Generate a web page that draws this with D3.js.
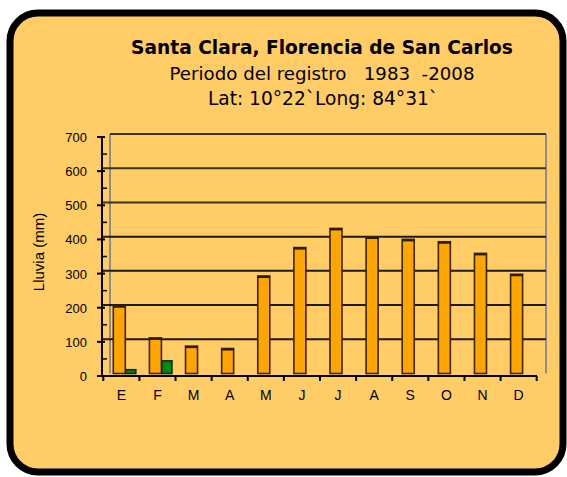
<!DOCTYPE html>
<html>
<head>
<meta charset="utf-8">
<script src="https://cdn.jsdelivr.net/npm/d3@7"></script>
<style>
  html, body { margin: 0; padding: 0; background: #ffffff; }
  svg { display: block; }
</style>
</head>
<body>
<svg id="chart" width="567" height="477"></svg>
<script>
// Monthly rainfall, Santa Clara (Florencia de San Carlos)
const months = ["E", "F", "M", "A", "M", "J", "J", "A", "S", "O", "N", "D"];
const rainMain = [198, 104, 80, 73, 285, 368, 424, 399, 392, 385, 351, 290];
const rainSecond = [11, 37, null, null, null, null, null, null, null, null, null, null];
const yTicks = [0, 100, 200, 300, 400, 500, 600, 700];

const titleLines = [
  "Santa Clara, Florencia de San Carlos",
  "Periodo del registro   1983  -2008",
  "Lat: 10°22`Long: 84°31`"
];

const svg = d3.select("#chart");

// rounded card
svg.append("rect")
  .attr("x", 10).attr("y", 13)
  .attr("width", 553).attr("height", 459)
  .attr("rx", 28).attr("ry", 28)
  .attr("fill", "#FFCC66")
  .attr("stroke", "#000")
  .attr("stroke-width", 7);

// titles
const titleFont = "DejaVu Sans, Verdana, sans-serif";
svg.append("text")
  .attr("x", 322).attr("y", 54)
  .attr("text-anchor", "middle")
  .attr("font-family", titleFont)
  .attr("font-weight", "bold")
  .attr("font-size", 18.6)
  .attr("fill", "#000")
  .text(titleLines[0]);
svg.append("text")
  .attr("x", 322).attr("y", 80)
  .attr("text-anchor", "middle")
  .attr("font-family", titleFont)
  .attr("font-size", 18.2)
  .attr("fill", "#000")
  .style("white-space", "pre")
  .text(titleLines[1]);
svg.append("text")
  .attr("x", 323).attr("y", 105)
  .attr("text-anchor", "middle")
  .attr("font-family", titleFont)
  .attr("font-size", 18.6)
  .attr("fill", "#000")
  .text(titleLines[2]);

// scales: back wall and front axis (slight 3D offset)
const x = d3.scaleBand().domain(d3.range(months.length)).range([103.3, 536.7]).padding(0);
const yWall = d3.scaleLinear().domain([0, 700]).range([373.5, 134]);
const yFront = d3.scaleLinear().domain([0, 700]).range([376, 137]);

const wallLeft = 110, wallRight = 546;

// back wall edges
svg.append("line")
  .attr("x1", wallLeft).attr("x2", wallLeft)
  .attr("y1", yWall(700)).attr("y2", yWall(0))
  .attr("stroke", "#8c8c8c").attr("stroke-width", 2);
svg.append("line")
  .attr("x1", wallRight).attr("x2", wallRight)
  .attr("y1", yWall(700)).attr("y2", yWall(0))
  .attr("stroke", "#8c8c8c").attr("stroke-width", 2);

// gridlines
svg.append("g").selectAll("line")
  .data(yTicks.filter(v => v > 0))
  .join("line")
  .attr("x1", v => v === 700 ? wallLeft : 101)
  .attr("x2", wallRight)
  .attr("y1", v => yWall(v)).attr("y2", v => yWall(v))
  .attr("stroke", v => v >= 500 ? "#3b3220" : "#1a1a1a")
  .attr("stroke-width", 2);

// bars
const barGroup = svg.append("g");
barGroup.selectAll("rect.main")
  .data(rainMain)
  .join("rect")
  .attr("class", "main")
  .attr("x", (d, i) => x(i) + 10)
  .attr("width", 12)
  .attr("y", d => yWall(d))
  .attr("height", d => yWall(0) - yWall(d))
  .attr("fill", "#FFA500")
  .attr("stroke", "#3a2600")
  .attr("stroke-width", 1.6);
barGroup.selectAll("rect.cap")
  .data(rainMain)
  .join("rect")
  .attr("class", "cap")
  .attr("x", (d, i) => x(i) + 10)
  .attr("width", 12)
  .attr("y", d => yWall(d))
  .attr("height", 2)
  .attr("fill", "#2a1c00");

const second = rainSecond.map((v, i) => ({ v, i })).filter(d => d.v != null);
barGroup.selectAll("rect.second")
  .data(second)
  .join("rect")
  .attr("class", "second")
  .attr("x", d => x(d.i) + 22.5)
  .attr("width", 10)
  .attr("y", d => yWall(d.v))
  .attr("height", d => yWall(0) - yWall(d.v))
  .attr("fill", "#008A0E")
  .attr("stroke", "#0d2a08")
  .attr("stroke-width", 1.6);

// y axis (front)
const axisX = 102;
svg.append("line")
  .attr("x1", axisX).attr("x2", axisX)
  .attr("y1", yFront(700)).attr("y2", yFront(0))
  .attr("stroke", "#000").attr("stroke-width", 2);
svg.append("g").selectAll("line")
  .data(yTicks)
  .join("line")
  .attr("x1", axisX - 5).attr("x2", axisX + 3)
  .attr("y1", v => yFront(v)).attr("y2", v => yFront(v))
  .attr("stroke", "#000").attr("stroke-width", 2);
svg.append("g").selectAll("line")
  .data(yTicks.slice(0, -1).map(v => v + 50))
  .join("line")
  .attr("x1", axisX).attr("x2", axisX + 5)
  .attr("y1", v => yFront(v)).attr("y2", v => yFront(v))
  .attr("stroke", "#000").attr("stroke-width", 1.5);
svg.append("g").selectAll("text")
  .data(yTicks)
  .join("text")
  .attr("x", 87)
  .attr("y", v => yFront(v) + 5)
  .attr("text-anchor", "end")
  .attr("font-family", "Liberation Sans, Arial, sans-serif")
  .attr("font-size", 13)
  .attr("fill", "#000")
  .text(v => v);

// x axis (front)
svg.append("line")
  .attr("x1", 101).attr("x2", 537)
  .attr("y1", yFront(0)).attr("y2", yFront(0))
  .attr("stroke", "#000").attr("stroke-width", 2);
svg.append("g").selectAll("line")
  .data(d3.range(months.length + 1))
  .join("line")
  .attr("x1", i => 103.3 + i * x.bandwidth())
  .attr("x2", i => 103.3 + i * x.bandwidth())
  .attr("y1", yFront(0)).attr("y2", yFront(0) + 5)
  .attr("stroke", "#000").attr("stroke-width", 2);
svg.append("g").selectAll("text")
  .data(months)
  .join("text")
  .attr("x", (d, i) => x(i) + x.bandwidth() / 2)
  .attr("y", 400)
  .attr("text-anchor", "middle")
  .attr("font-family", "Liberation Sans, Arial, sans-serif")
  .attr("font-size", 14)
  .attr("fill", "#000")
  .text(d => d);

// y axis title
svg.append("text")
  .attr("transform", "translate(44,252) rotate(-90)")
  .attr("text-anchor", "middle")
  .attr("font-family", "Liberation Sans, Arial, sans-serif")
  .attr("font-size", 15)
  .attr("fill", "#000")
  .text("Lluvia (mm)");
</script>
</body>
</html>
